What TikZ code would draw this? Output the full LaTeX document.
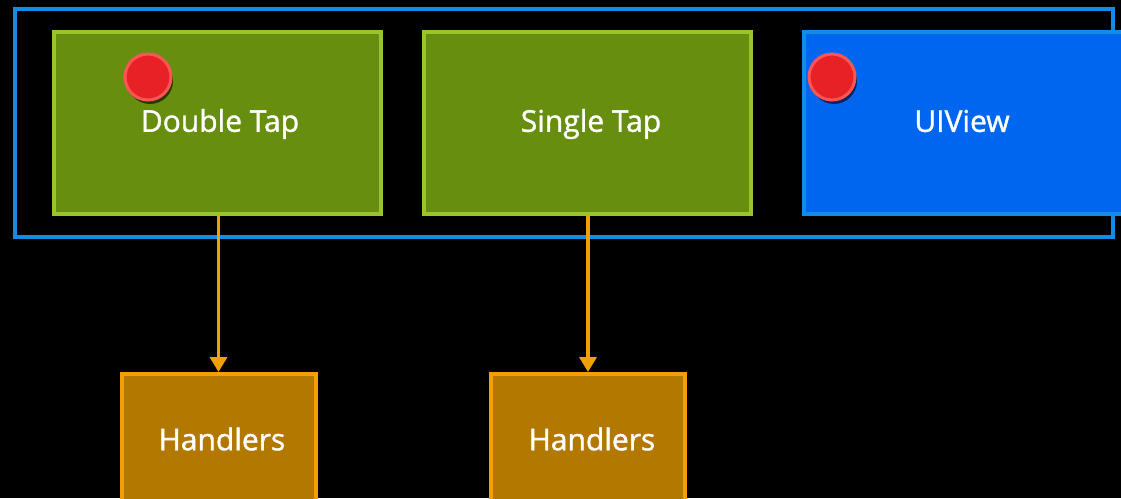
\documentclass[tikz,border=0pt]{standalone}
\usepackage{fontspec}
\setmainfont{Open Sans}
\newfontfamily\lblfont{Open Sans}[FakeBold=1.2]
\usetikzlibrary{shadows,arrows.meta}
\definecolor{gfill}{RGB}{104,142,16}
\definecolor{gline}{RGB}{154,196,44}
\definecolor{bfill}{RGB}{0,102,240}
\definecolor{bline}{RGB}{20,140,230}
\definecolor{ofill}{RGB}{179,120,0}
\definecolor{oline}{RGB}{240,160,0}
\definecolor{rfill}{RGB}{232,34,36}
\definecolor{rline}{RGB}{255,85,85}
\tikzset{
  box/.style={draw, line width=4pt, inner sep=0pt},
  lbl/.style={text=white, font=\lblfont\fontsize{30}{32}\selectfont},
  greenbox/.style={box, fill=gfill, draw=gline, minimum width=327pt, minimum height=182pt},
  bluebox/.style={box, fill=bfill, draw=bline, minimum width=327pt, minimum height=182pt},
  handbox/.style={box, fill=ofill, draw=oline, minimum width=194pt, minimum height=160pt},
  dot/.style={circle, fill=rfill, draw=rline, line width=3pt, minimum size=46pt, inner sep=0pt,
    drop shadow={shadow xshift=2pt, shadow yshift=-4pt, opacity=0.6, fill=black}},
  flow/.style={draw=oline, line width=3.6pt, -{Triangle[length=15pt,width=17pt]}},
}
\begin{document}
\begin{tikzpicture}[x=1pt,y=-1pt]
\fill[black] (0,0) rectangle (1121,498);
\useasboundingbox (0,0) rectangle (1121,498);
\clip (0,0) rectangle (1121,498);
\node[draw=bline, line width=4pt, minimum width=1098pt, minimum height=228pt, inner sep=0pt] (outer) at (564,123) {};
\node[greenbox] (dt) at (217.5,123) {};
\node[lbl] (dtl) at (220,124) {Double Tap};
\node[greenbox] (st) at (587.5,123) {};
\node[lbl] (stl) at (591,124) {Single Tap};
\node[bluebox] (uv) at (967.5,123) {};
\node[lbl] (uvl) at (962,121) {UIView};
\node[dot] (d1) at (148,77) {};
\node[dot] (d2) at (832,77) {};
\node[handbox] (h1) at (218.5,454) {};
\node[lbl] (h1l) at (222,439) {Handlers};
\node[handbox] (h2) at (588,454) {};
\node[lbl] (h2l) at (592,439) {Handlers};
\draw[flow] (dt.south -| h1.north) -- (h1.north);
\draw[flow] (st.south -| h2.north) -- (h2.north);
\end{tikzpicture}
\end{document}
